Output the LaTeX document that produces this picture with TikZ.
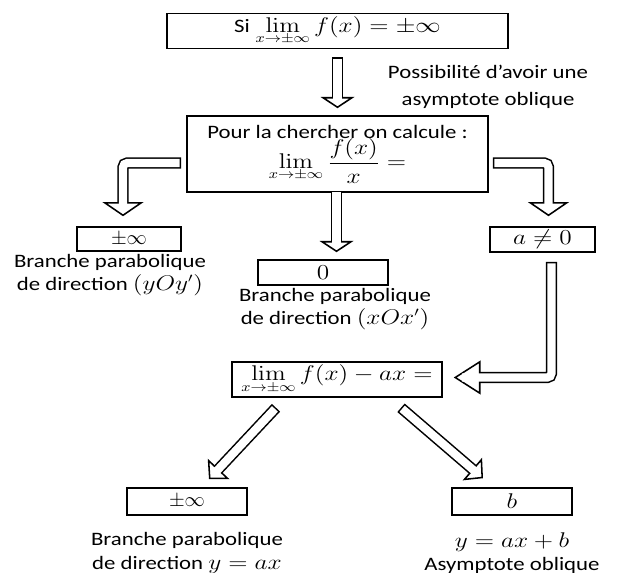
\documentclass[tikz,border=0pt]{standalone}
\usepackage[no-math]{fontspec}
\setmainfont{Carlito}[FakeStretch=1.2]
\usepackage{graphicx}
\usepackage{tikz}
\usetikzlibrary{arrows.meta,calc}
\newcommand{\wm}[1]{\scalebox{1.25}[1.05]{$#1$}}
\tikzstyle{box} = [draw=black, line width=1.1pt, inner sep=0pt, font={\fontsize{13.5}{17}\selectfont}]
\tikzstyle{note} = [align=center, inner sep=0pt, font={\fontsize{13.5}{16.5}\selectfont}]
\tikzstyle{hollow} = [line width=8pt, rounded corners=3pt,
  -{Triangle[open,fill=white,line width=1.1pt,length=8pt,width=24pt]},
  postaction={draw=white, line width=5.8pt, shorten <=1.1pt, shorten >=6pt, arrows=-}]
\tikzstyle{bent} = [hollow, -{Triangle[open,fill=white,line width=1.1pt,length=10pt,width=29pt]}]
\tikzstyle{slant} = [hollow, -{Triangle[open,fill=white,line width=1.1pt,length=10pt,width=21pt]}]

\begin{document}
\begin{tikzpicture}[x=0.025cm, y=-0.025cm]
        \useasboundingbox (0,0) rectangle (620,573);
        % boxes
        \node[box, minimum width=8.525cm, minimum height=0.875cm](top) at (337.5,31)
          {Si\hspace{4pt}\wm{\displaystyle\lim_{x\to\pm\infty} f(x)=\pm\infty}};
        \node[box, align=center, minimum width=7.525cm, minimum height=1.9cm](calc) at (337.5,154)
          {Pour la chercher on calcule :\\[-1pt] \wm{\displaystyle\lim_{x\to\pm\infty}\frac{f(x)}{x}=}};
        \node[box, minimum width=2.6cm, minimum height=0.6cm](pinf1) at (129,239) {$\pm\infty$};
        \node[box, minimum width=3.25cm, minimum height=0.625cm](zero) at (323,272.5) {\wm{0}};
        \node[box, minimum width=2.625cm, minimum height=0.625cm](aneq) at (542.5,239.5) {\wm{a\neq 0}};
        \node[box, minimum width=5.25cm, minimum height=0.875cm](diff) at (337,379.5)
          {\wm{\displaystyle\lim_{x\to\pm\infty} f(x)-ax=}};
        \node[box, minimum width=3cm, minimum height=0.675cm](pinf2) at (187,501.5) {$\pm\infty$};
        \node[box, minimum width=3cm, minimum height=0.675cm](bval) at (512,501.5) {\wm{b}};
        % texts
        \node[note, font={\fontsize{13.5}{19}\selectfont}](poss) at (488,87) {Possibilité d’avoir une\\asymptote oblique};
        \node[note](yoy) at (110,275) {Branche parabolique\\de direction \wm{(yOy')}};
        \node[note](xox) at (335,309) {Branche parabolique\\de direction \wm{(xOx')}};
        \node[note](dirax) at (187,553) {Branche parabolique\\de direction \wm{y=ax}};
        \node[note](asym) at (512,553) {\wm{y=ax+b}\\Asymptote oblique};
        % arrows
        \draw[hollow]($(top.south)+(0,8)$)--($(calc.north)+(0,-7)$);
        \draw[bent]($(calc.west)+(-5,9)$) -| ($(pinf1.north)+(-6,-10)$);
        \draw[bent]($(calc.east)+(4,9)$) -| ($(aneq.north)+(6,-10)$);
        \draw[hollow]($(calc.south)+(-1,-2)$)--($(calc.south |- zero.north)+(-1,-7)$);
        \draw[hollow, -{Triangle[open,fill=white,line width=1.1pt,length=19pt,width=24pt]}]
          ($(aneq.south)+(9,9)$) |- ($(diff.east)+(11,-2)$);
        \draw[slant]($(diff.south)+(-61,10)$)--($(pinf2.north)+(22,-8)$);
        \draw[slant]($(diff.south)+(64,10)$)--($(bval.north)+(-29,-9)$);
      \end{tikzpicture}
\end{document}
